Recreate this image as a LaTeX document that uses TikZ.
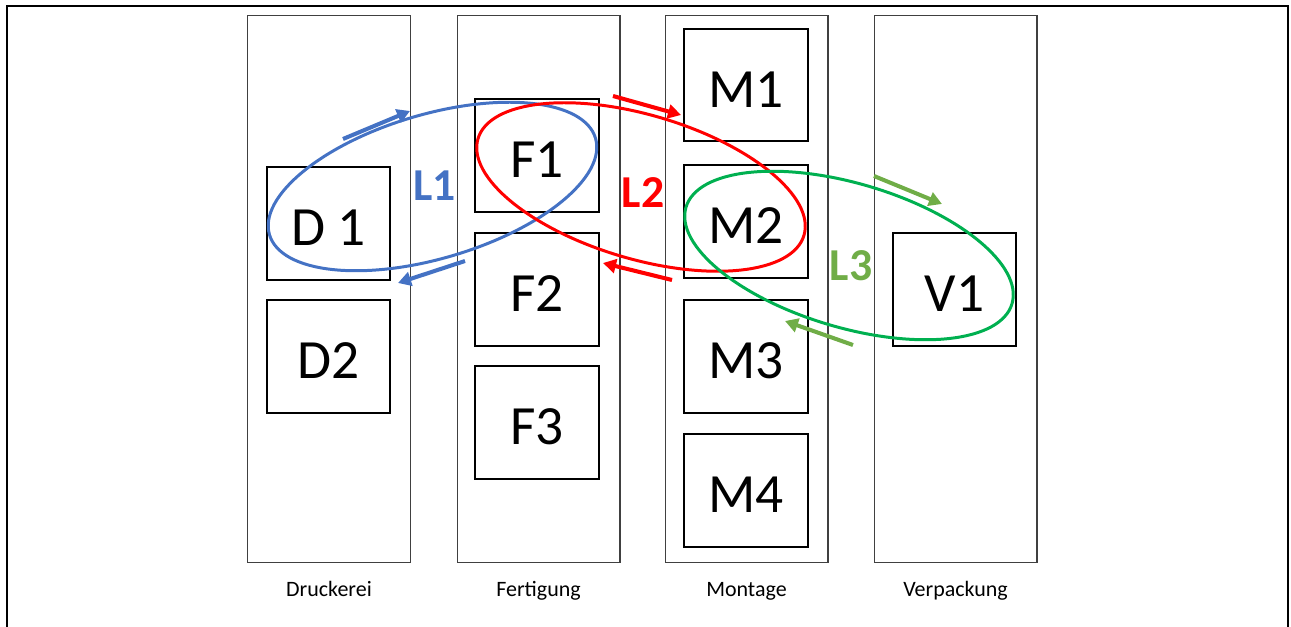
\documentclass[tikz,border=0pt]{standalone}
\usepackage{fontspec}
\setmainfont{Carlito}
\usetikzlibrary{arrows.meta,positioning,shapes.geometric}
\definecolor{lblau}{HTML}{4472C4}
\definecolor{lrot}{HTML}{FF0000}
\definecolor{lgruen}{HTML}{00B050}
\definecolor{hgruen}{HTML}{70AD47}
\tikzset{
  spalte/.style={draw=black!75,line width=0.85pt,minimum width=3.25cm,minimum height=10.93cm},
  stat/.style={draw,line width=1.4pt,minimum width=2.47cm,minimum height=2.25cm,
    font=\fontsize{31.5}{36}\selectfont,text height=25.4pt,text depth=0pt},
  schleife/.style={ellipse,draw,line width=1.7pt,minimum width=6.8cm,minimum height=2.88cm},
  pf/.style={line width=2.3pt,-{Triangle[length=2.6mm,width=2.8mm]}},
  lname/.style={font=\fontsize{26}{30}\selectfont\bfseries},
  lab/.style={anchor=base,font=\fontsize{12.5}{15}\selectfont},
}

\begin{document}
\begin{tikzpicture}
  \useasboundingbox (0,0) rectangle (25.82,12.52);
  \draw[line width=1.1pt] (0.14,-0.2) -- (0.14,12.40) -- (25.76,12.40) -- (25.76,-0.2);
  % Bereiche
  \node[spalte] (dr) at (6.58,6.74) {};
  \node[spalte] (fe) at (10.77,6.74) {};
  \node[spalte] (mo) at (14.93,6.74) {};
  \node[spalte] (ve) at (19.11,6.74) {};
  \path (dr.south) ++(0,-0.68) node[lab] (tdr) {Druckerei};
  \path (fe.south) ++(0,-0.68) node[lab] (tfe) {Fertigung};
  \path (mo.south) ++(0,-0.68) node[lab] (tmo) {Montage};
  \path (ve.south) ++(0,-0.68) node[lab] (tve) {Verpackung};
  % Stationen
  \node[stat] (d1) at (6.57,8.05) {D 1};
  \node[stat] (d2) at (6.57,5.39) {D2};
  \node[stat] (f1) at (10.74,9.41) {F1};
  \node[stat] (f2) at (10.74,6.73) {F2};
  \node[stat] (f3) at (10.74,4.07) {F3};
  \node[stat] (m1) at (14.92,10.82) {M1};
  \node[stat] (m2) at (14.92,8.09) {M2};
  \node[stat] (m3) at (14.92,5.39) {M3};
  \node[stat] (m4) at (14.92,2.71) {M4};
  \node[stat] (v1) at (19.09,6.73) {V1};
  % Regelkreise
  \node[schleife,draw=lblau,rotate=16.5] (l1) at (8.65,8.79) {};
  \node[schleife,draw=lrot,rotate=-16.5] (l2) at (12.82,8.78) {};
  \node[schleife,draw=lgruen,rotate=-16.5] (l3) at (16.98,7.41) {};
  \node[lname,text=lblau] (n1) at (8.69,8.80) {L1};
  \node[lname,text=lrot] (n2) at (12.86,8.66) {L2};
  \node[lname,text=hgruen] (n3) at (17.02,7.20) {L3};
  \draw[pf,lblau] (6.86,9.74) -- (8.20,10.30);
  \draw[pf,lblau] (9.30,7.30) -- (7.96,6.86);
  \draw[pf,lrot] (12.26,10.60) -- (13.62,10.22);
  \draw[pf,lrot] (13.44,6.92) -- (12.06,7.26);
  \draw[pf,hgruen] (17.48,9.00) -- (18.84,8.44);
  \draw[pf,hgruen] (17.06,5.62) -- (15.70,6.10);
\end{tikzpicture}
\end{document}
